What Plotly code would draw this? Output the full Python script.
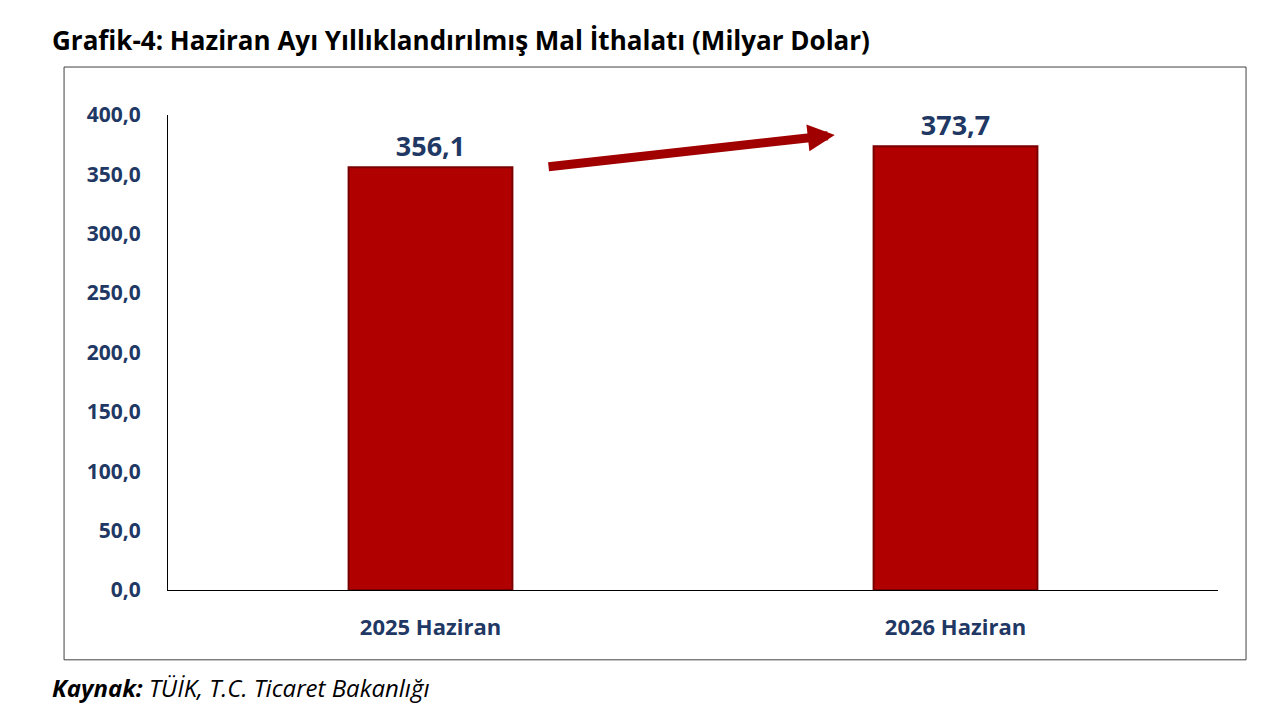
import plotly.graph_objects as go

categories = ["2025 Haziran", "2026 Haziran"]
values = [356.1, 373.7]
labels = ["356,1", "373,7"]

navy = "#1f3864"
fig = go.Figure(go.Bar(
    x=categories, y=values, width=0.312,
    marker=dict(color="#b00000", line=dict(color="#7a0000", width=2)),
    text=labels, textposition="outside", cliponaxis=False,
    textfont=dict(family="Open Sans", size=27, color=navy),
))
fig.update_layout(
    width=1280, height=720, plot_bgcolor="white", paper_bgcolor="white",
    margin=dict(l=160, r=70, t=107, b=138), showlegend=False,
    separators=",.",
    font=dict(family="Open Sans"),
)
fig.update_yaxes(range=[0, 400], dtick=50, tickformat=".1f", showgrid=False,
                 showline=True, linecolor="black", linewidth=1,
                 tickfont=dict(size=21, color=navy, family="Open Sans"),
                 ticks="", ticklabelstandoff=22)
fig.update_xaxes(range=[-0.5, 1.5], showline=True, linecolor="black", linewidth=1,
                 tickfont=dict(size=22, color=navy, family="Open Sans"), ticks="",
                 ticklabelstandoff=18)
fig.update_layout(xaxis_tickfont_weight="bold", yaxis_tickfont_weight="bold")
fig.update_traces(textfont_weight="bold")
fig.add_shape(type="rect", xref="paper", yref="paper", x0=-0.099, x1=1.0267,
              y0=-0.147, y1=1.101, line=dict(color="#404040", width=1))
fig.add_annotation(x=0.77, y=383.2, ax=0.222, ay=356.2, xref="x", yref="y",
                   axref="x", ayref="y", showarrow=True, arrowhead=2,
                   arrowsize=0.6, arrowwidth=9, arrowcolor="#a00000", text="")
fig.add_annotation(text="<b>Grafik-4: Haziran Ayı Yıllıklandırılmış Mal İthalatı (Milyar Dolar)</b>",
                   xref="paper", yref="paper", x=-0.112, y=1.158, xanchor="left",
                   yanchor="middle",
                   showarrow=False, font=dict(size=26, color="black", family="Open Sans"))
fig.add_annotation(text="<i><b>Kaynak:</b> TÜİK, T.C. Ticaret Bakanlığı</i>",
                   xref="paper", yref="paper", x=-0.112, y=-0.206, xanchor="left",
                   yanchor="middle",
                   showarrow=False, font=dict(size=24, color="black", family="Open Sans"))
fig.write_html("out.html")
